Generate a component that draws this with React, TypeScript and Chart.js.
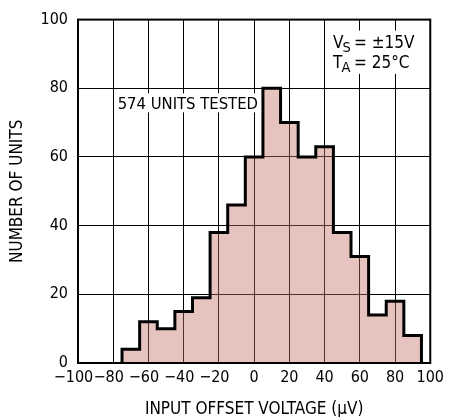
import React, { useEffect, useRef } from "react";
import { Chart, registerables } from "chart.js";

Chart.register(...registerables);

// ---- data ----
const binCenters = [-70, -60, -50, -40, -30, -20, -10, 0, 10, 20, 30, 40, 50, 60, 70, 80, 90];
const unitCounts = [4, 12, 10, 15, 19, 38, 46, 60, 80, 70, 60, 63, 38, 31, 14, 18, 8];
const binWidth = 10;
const xMin = -100;
const xMax = 100;
const xStep = 20;
const yMin = 0;
const yMax = 100;
const yStep = 20;
const xTitle = "INPUT OFFSET VOLTAGE (\u03bcV)";
const yTitle = "NUMBER OF UNITS";
const noteUnits = "574 UNITS TESTED";
const noteCond1 = ["V", "S", "= \u00b115V"];
const noteCond2 = ["T", "A", "= 25\u00b0C"];

const FONT = "'DejaVu Sans Condensed', 'DejaVu Sans', sans-serif";

function buildOutline() {
  const pts: { x: number; y: number }[] = [];
  const firstEdge = binCenters[0] - binWidth / 2;
  pts.push({ x: firstEdge, y: 0 });
  binCenters.forEach((c, i) => pts.push({ x: c - binWidth / 2, y: unitCounts[i] }));
  const lastEdge = binCenters[binCenters.length - 1] + binWidth / 2;
  pts.push({ x: lastEdge, y: unitCounts[unitCounts.length - 1] });
  pts.push({ x: lastEdge, y: 0 });
  return pts;
}

const notesPlugin = {
  id: "notes",
  afterDraw(chart: any) {
    const { ctx, chartArea, scales } = chart;
    const sx = scales.x;
    const sy = scales.y;
    ctx.save();
    // plot frame
    ctx.strokeStyle = "#000";
    ctx.lineWidth = 2;
    ctx.strokeRect(chartArea.left, chartArea.top, chartArea.right - chartArea.left, chartArea.bottom - chartArea.top);

    // "574 UNITS TESTED"
    const bx1 = sx.getPixelForValue(-79);
    const bx2 = sx.getPixelForValue(1.2);
    const by1 = sy.getPixelForValue(78.5);
    const by2 = sy.getPixelForValue(73);
    ctx.fillStyle = "#fff";
    ctx.fillRect(bx1, by1, bx2 - bx1, by2 - by1);
    ctx.fillStyle = "#000";
    ctx.font = `16.5px ${FONT}`;
    ctx.textBaseline = "alphabetic";
    ctx.textAlign = "left";
    ctx.fillText(noteUnits, sx.getPixelForValue(-77.5), sy.getPixelForValue(73.9));

    // conditions box
    const cx1 = sx.getPixelForValue(42.8);
    const cx2 = sx.getPixelForValue(91.5);
    const cy1 = sy.getPixelForValue(96.8);
    const cy2 = sy.getPixelForValue(84.2);
    ctx.fillStyle = "#fff";
    ctx.fillRect(cx1, cy1, cx2 - cx1, cy2 - cy1);
    ctx.fillStyle = "#000";
    const tx = sx.getPixelForValue(44.8);
    const rows = [
      { parts: noteCond1, base: sy.getPixelForValue(91.6) },
      { parts: noteCond2, base: sy.getPixelForValue(85.9) },
    ];
    rows.forEach((r) => {
      ctx.font = `17px ${FONT}`;
      ctx.fillText(r.parts[0], tx, r.base);
      const w0 = ctx.measureText(r.parts[0]).width;
      ctx.font = `14.5px ${FONT}`;
      ctx.fillText(r.parts[1], tx + w0 - 1, r.base + 4);
      ctx.font = `17px ${FONT}`;
      ctx.fillText(r.parts[2], tx + 21, r.base);
    });
    ctx.restore();
  },
};

export default function App() {
  const ref = useRef<HTMLCanvasElement>(null);
  useEffect(() => {
    const chart = new Chart(ref.current as HTMLCanvasElement, {
      type: "line",
      data: {
        datasets: [
          {
            data: buildOutline(),
            stepped: "before",
            borderColor: "#000",
            borderWidth: 3,
            backgroundColor: "rgba(196,112,102,0.42)",
            fill: "origin",
            pointRadius: 0,
            tension: 0,
            borderJoinStyle: "miter",
          } as any,
        ],
      },
      options: {
        responsive: false,
        animation: false,
        events: [],
        layout: { padding: { top: 16, right: 15, left: 0, bottom: 0 } },
        plugins: { legend: { display: false }, tooltip: { enabled: false } },
        scales: {
          x: {
            type: "linear",
            min: xMin,
            max: xMax,
            grid: { color: "#000", lineWidth: 1, drawTicks: false },
            border: { display: false },
            ticks: {
              stepSize: xStep,
              autoSkip: false,
              maxRotation: 0,
              padding: 5,
              color: "#000",
              font: { family: FONT, size: 16 },
              callback: (v: any) => (v < 0 ? "\u2212" + Math.abs(v) + "\u2007" : String(v)),
            },
            title: {
              display: true,
              text: xTitle,
              color: "#000",
              font: { family: FONT, size: 17, lineHeight: 0.85 },
              padding: { top: 0, bottom: 0 },
            },
            afterFit: (s: any) => {
              s.height = 54;
            },
          },
          y: {
            min: yMin,
            max: yMax,
            z: 1,
            grid: { color: "#000", lineWidth: 1, drawTicks: false },
            border: { display: false },
            ticks: {
              stepSize: yStep,
              padding: 10,
              color: "#000",
              font: { family: FONT, size: 16 },
            },
            title: {
              display: true,
              text: yTitle,
              color: "#000",
              font: { family: FONT, size: 17, lineHeight: 1 },
              padding: { top: 9, bottom: 0 },
            },
            afterFit: (s: any) => {
              s.width = 78;
            },
          },
        },
      } as any,
      plugins: [notesPlugin],
    });
    return () => chart.destroy();
  }, []);
  return (
    <div style={{ position: "fixed", left: 0, top: 0, width: 449, height: 417, background: "#fff" }}>
      <canvas ref={ref} width={449} height={417} style={{ display: "block" }} />
    </div>
  );
}
